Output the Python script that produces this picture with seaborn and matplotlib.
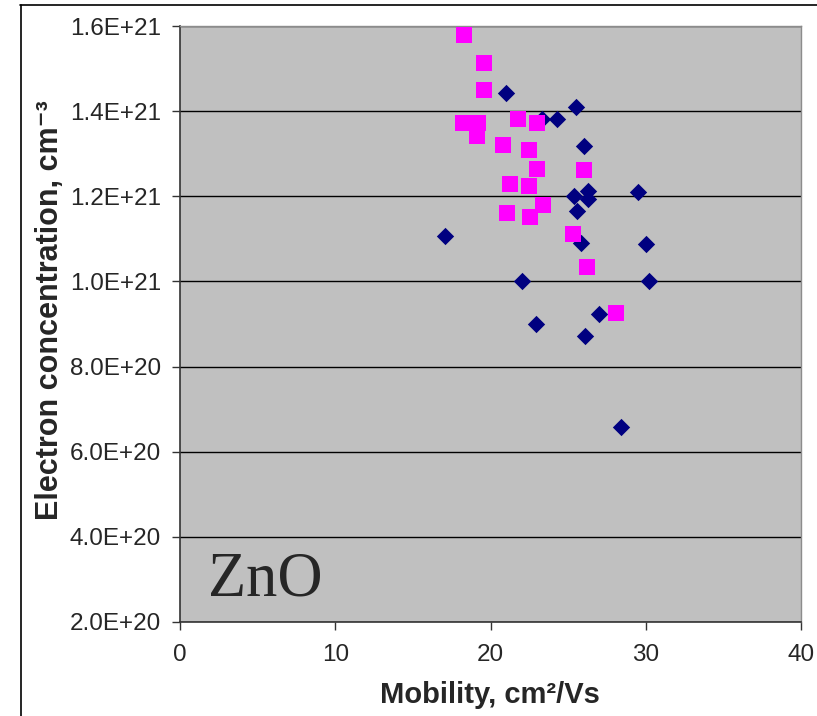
import matplotlib
matplotlib.use("Agg")
import matplotlib.pyplot as plt
import matplotlib.ticker as mticker
from matplotlib.lines import Line2D
import seaborn as sns
import pandas as pd

# Series 1 (navy diamonds)
blue_mobility = [21.0, 25.5, 23.3, 24.3, 26.0, 25.4, 26.3, 26.3, 25.6, 29.5,
                 17.1, 25.8, 30.0, 22.0, 30.2, 27.0, 22.9, 26.1, 28.4]
blue_conc = [1.442e21, 1.409e21, 1.382e21, 1.381e21, 1.319e21, 1.201e21, 1.212e21,
             1.194e21, 1.166e21, 1.211e21, 1.106e21, 1.091e21, 1.088e21, 1.001e21,
             1.001e21, 0.923e21, 0.900e21, 0.871e21, 0.658e21]

# Series 2 (magenta squares)
pink_mobility = [18.3, 19.6, 19.6, 18.2, 19.2, 19.1, 21.75, 23.0, 20.8, 22.45,
                 23.0, 26.0, 21.25, 22.45, 23.35, 21.05, 22.55, 25.3, 26.2, 28.1]
pink_conc = [1.580e21, 1.512e21, 1.450e21, 1.371e21, 1.371e21, 1.342e21, 1.382e21,
             1.371e21, 1.320e21, 1.309e21, 1.263e21, 1.262e21, 1.230e21, 1.224e21,
             1.180e21, 1.161e21, 1.151e21, 1.111e21, 1.035e21, 0.927e21]

x_ticks = [0, 10, 20, 30, 40]
y_ticks = [2e20, 4e20, 6e20, 8e20, 1.0e21, 1.2e21, 1.4e21, 1.6e21]

sns.set_style("white")
plt.rcParams["font.family"] = ["Liberation Sans", "DejaVu Sans"]

W, H = 817, 716
fig = plt.figure(figsize=(W / 100, H / 100), dpi=100)
ax = fig.add_axes([180 / W, 1 - 622 / H, (801 - 180) / W, (622 - 26) / H])
ax.set_facecolor("#C0C0C0")

df_b = pd.DataFrame({"x": blue_mobility, "y": blue_conc})
df_p = pd.DataFrame({"x": pink_mobility, "y": pink_conc})

sns.scatterplot(data=df_b, x="x", y="y", ax=ax, marker="D", s=78,
                color="#000080", linewidth=0, zorder=3, legend=False)
sns.scatterplot(data=df_p, x="x", y="y", ax=ax, marker="s", s=117,
                color="#FF00FF", linewidth=0, zorder=4, legend=False)

ax.set_xlim(0, 40)
ax.set_ylim(2e20, 1.6e21)
ax.set_xticks(x_ticks)
ax.set_yticks(y_ticks)
ax.yaxis.set_major_formatter(mticker.FuncFormatter(lambda v, p: f"{v:.1E}"))
ax.xaxis.set_major_formatter(mticker.FuncFormatter(lambda v, p: f"{int(v)}"))

ax.grid(axis="y", color="black", linewidth=1.0, zorder=1)
ax.grid(axis="x", visible=False)
ax.set_axisbelow(True)

for side in ["top", "right"]:
    ax.spines[side].set_color("#8C8C8C")
    ax.spines[side].set_linewidth(1.0)
for side in ["left", "bottom"]:
    ax.spines[side].set_color("#333333")
    ax.spines[side].set_linewidth(1.2)

ax.tick_params(axis="both", direction="out", length=5.8, width=1, color="#333333",
               labelsize=17.5, left=True, bottom=True)
ax.tick_params(axis="y", pad=8)
ax.tick_params(axis="x", pad=10)

ax.set_xlabel("Mobility, cm²/Vs", fontsize=21, fontweight="bold", va="center")
ax.set_ylabel("Electron concentration, cm⁻³", fontsize=22, fontweight="bold",
              va="center")
ax.xaxis.set_label_coords((490 - 180) / 621, (622 - 695) / 596)
ax.yaxis.set_label_coords((50 - 180) / 621, (622 - 310) / 596)

ax.text((208 - 180) / 621, (622 - 595) / 596, "ZnO", transform=ax.transAxes,
        fontsize=45, family=["Liberation Serif", "DejaVu Serif"],
        ha="left", va="baseline", zorder=5)

# outer chart frame
fig.add_artist(Line2D([20.5 / W, 20.5 / W], [0, 1 - 5 / H], color="black", lw=1.2,
                      transform=fig.transFigure))
fig.add_artist(Line2D([20 / W, 1], [1 - 5 / H, 1 - 5 / H], color="black", lw=1.2,
                      transform=fig.transFigure))

fig.savefig("out.png", dpi=100)
